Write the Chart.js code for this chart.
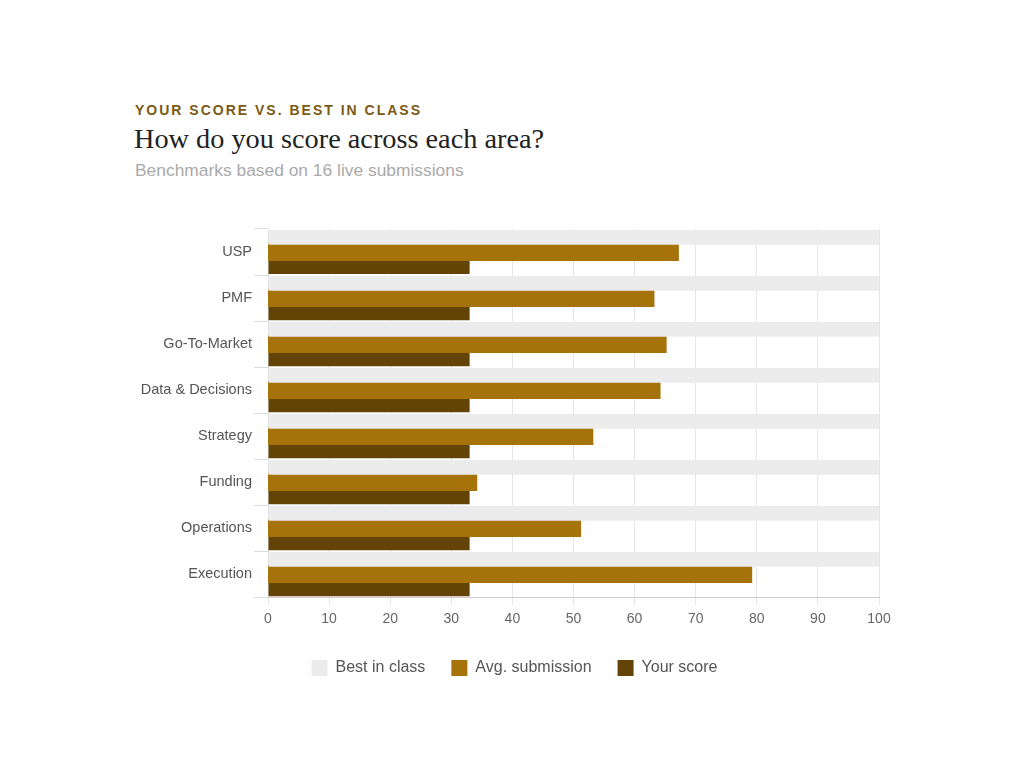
<!DOCTYPE html>
<html>
<head>
<meta charset="utf-8">
<script src="https://cdn.jsdelivr.net/npm/chart.js@4.4.1/dist/chart.umd.min.js"></script>
<style>
  html, body { margin: 0; padding: 0; background: #fff; }
  body { width: 1024px; height: 768px; position: relative; overflow: hidden; }
  .eyebrow {
    position: absolute; left: 135px; top: 102px;
    font: bold 14px "Liberation Sans", Arial, sans-serif;
    letter-spacing: 2px; color: #7b5a14;
  }
  .title {
    position: absolute; left: 134px; top: 123px;
    font: 28.3px "Liberation Serif", Georgia, serif;
    color: #222;
  }
  .subtitle {
    position: absolute; left: 135px; top: 160px;
    font: 17.4px "Liberation Sans", Arial, sans-serif;
    color: #aaa;
  }
  #wrap { position: absolute; left: 0; top: 0; width: 1024px; height: 768px; }
</style>
</head>
<body>
<div class="eyebrow">YOUR SCORE VS. BEST IN CLASS</div>
<div class="title">How do you score across each area?</div>
<div class="subtitle">Benchmarks based on 16 live submissions</div>
<div id="wrap"><canvas id="chart"></canvas></div>

<script>
// chart data
var categories = ['USP', 'PMF', 'Go-To-Market', 'Data & Decisions', 'Strategy', 'Funding', 'Operations', 'Execution'];
var bestInClass = [100, 100, 100, 100, 100, 100, 100, 100];
var avgSubmission = [67, 63, 65, 64, 53, 34, 51, 79];
var yourScore = [33, 33, 33, 33, 33, 33, 33, 33];
var xTicks = [0, 10, 20, 30, 40, 50, 60, 70, 80, 90, 100];

var labelFont = 'Liberation Sans';

// nudge the legend a little to the right
var legendShift = {
    id: 'legendShift',
    afterLayout: function (chart) {
        chart.legend.left += 10;
        chart.legend.right += 10;
    }
};

var ctx = document.getElementById('chart').getContext('2d');
var chart = new Chart(ctx, {
    type: 'bar',
    data: {
        labels: categories,
        datasets: [
            { label: 'Best in class', data: bestInClass, backgroundColor: '#ececec' },
            { label: 'Avg. submission', data: avgSubmission, backgroundColor: '#a6730a', inflateAmount: 1.5 },
            { label: 'Your score', data: yourScore, backgroundColor: '#634306' }
        ]
    },
    plugins: [legendShift],
    options: {
        indexAxis: 'y',
        responsive: true,
        maintainAspectRatio: false,
        animation: false,
        categoryPercentage: 0.96,
        barPercentage: 1,
        layout: { padding: { left: 130, right: 145, top: 229, bottom: 82 } },
        scales: {
            x: {
                min: 0,
                max: 100,
                afterBuildTicks: function (scale) {
                    scale.ticks = xTicks.map(function (v) { return { value: v }; });
                },
                grid: { color: '#e6e6e6', tickLength: 8 },
                border: { color: '#cfcfcf' },
                ticks: { color: '#666', padding: 6, font: { family: labelFont, size: 14 } }
            },
            y: {
                afterFit: function (scale) { scale.width = 138; },
                grid: { drawOnChartArea: false, color: '#dcdcdc', tickLength: 14 },
                border: { color: '#dcdcdc' },
                ticks: { color: '#555', padding: 2, font: { family: labelFont, size: 14.5 } }
            }
        },
        plugins: {
            legend: {
                position: 'bottom',
                labels: {
                    boxWidth: 16,
                    boxHeight: 16,
                    padding: 26,
                    color: '#555',
                    font: { family: labelFont, size: 16 }
                }
            },
            tooltip: { enabled: false }
        }
    }
});
</script>
</body>
</html>
